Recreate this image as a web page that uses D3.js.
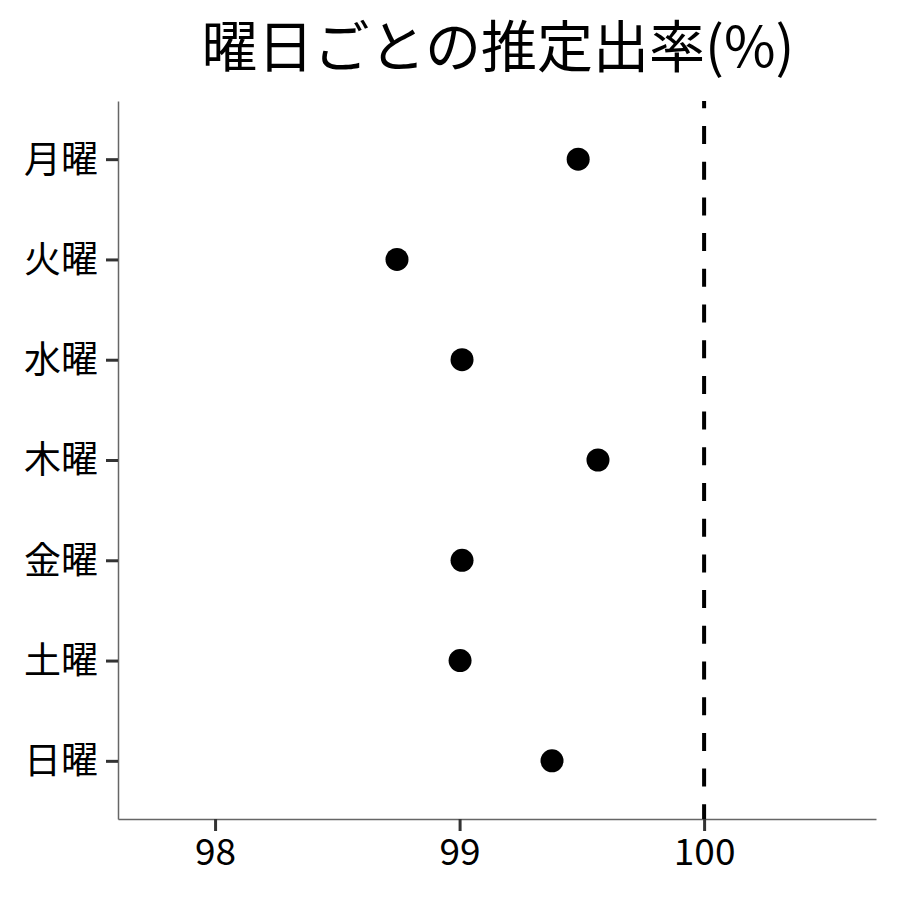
<!DOCTYPE html>
<html>
<head>
<meta charset="utf-8">
<script src="https://cdn.jsdelivr.net/npm/d3@7"></script>
<style>
  body { margin: 0; background: #fff; }
  svg text { font-family: "Noto Sans CJK JP", "Noto Sans", sans-serif; }
</style>
</head>
<body>
<div class="vis"></div>
<script>
// 曜日ごとの推定出率
const days = ['月曜', '火曜', '水曜', '木曜', '金曜', '土曜', '日曜'];
const rates = [99.485, 98.744, 99.010, 99.566, 99.010, 99.002, 99.378];
const xTicks = [98, 99, 100];
const refLine = 100;
const titleText = '曜日ごとの推定出率(%)';

const width = 900, height = 900;
const margin = {top: 101, right: 24, bottom: 81, left: 118};
const innerWidth = width - margin.left - margin.right;
const innerHeight = height - margin.top - margin.bottom;

const svg = d3.select('.vis').append('svg')
    .attr('width', width)
    .attr('height', height);

svg.append('text')
    .attr('x', 498)
    .attr('y', 67)
    .attr('text-anchor', 'middle')
    .style('font-size', '56px')
    .text(titleText);

const graph = svg.append('g')
    .attr('transform', `translate(${margin.left}, ${margin.top})`);

const xScale = d3.scaleLinear()
    .domain([97.603, 100.703])
    .range([0, innerWidth]);

const yScale = d3.scalePoint()
    .domain(days)
    .range([0, innerHeight])
    .padding(0.58);

// x axis
const gXAxis = graph.append('g')
    .attr('transform', `translate(0, ${innerHeight})`)
    .call(d3.axisBottom(xScale).tickValues(xTicks).tickSizeInner(12).tickSizeOuter(0)
        .tickPadding(8).tickFormat(d3.format('d')));
gXAxis.select('.domain').attr('stroke', '#666').attr('stroke-width', 1.5);
gXAxis.selectAll('.tick line').attr('stroke', '#333').attr('stroke-width', 3);
gXAxis.selectAll('.tick text').attr('fill', '#000').style('font-size', '37px');

// y axis
const gYAxis = graph.append('g')
    .call(d3.axisLeft(yScale).tickSizeInner(12).tickSizeOuter(0).tickPadding(8));
gYAxis.select('.domain').attr('stroke', '#666').attr('stroke-width', 1.5);
gYAxis.selectAll('.tick line').attr('stroke', '#333').attr('stroke-width', 3);
gYAxis.selectAll('.tick text').attr('fill', '#000').style('font-size', '37px')
    .attr('dy', '0.35em');

// reference line
graph.append('line')
    .attr('x1', xScale(refLine))
    .attr('x2', xScale(refLine))
    .attr('y1', 0)
    .attr('y2', innerHeight)
    .attr('stroke', '#000')
    .attr('stroke-width', 4)
    .attr('stroke-dasharray', '18,17.7')
    .attr('stroke-dashoffset', 10.7);

// points
graph.selectAll('circle')
    .data(days)
  .enter().append('circle')
    .attr('cx', (d, i) => xScale(rates[i]))
    .attr('cy', d => yScale(d))
    .attr('r', 11.5)
    .attr('fill', '#000');
</script>
</body>
</html>
